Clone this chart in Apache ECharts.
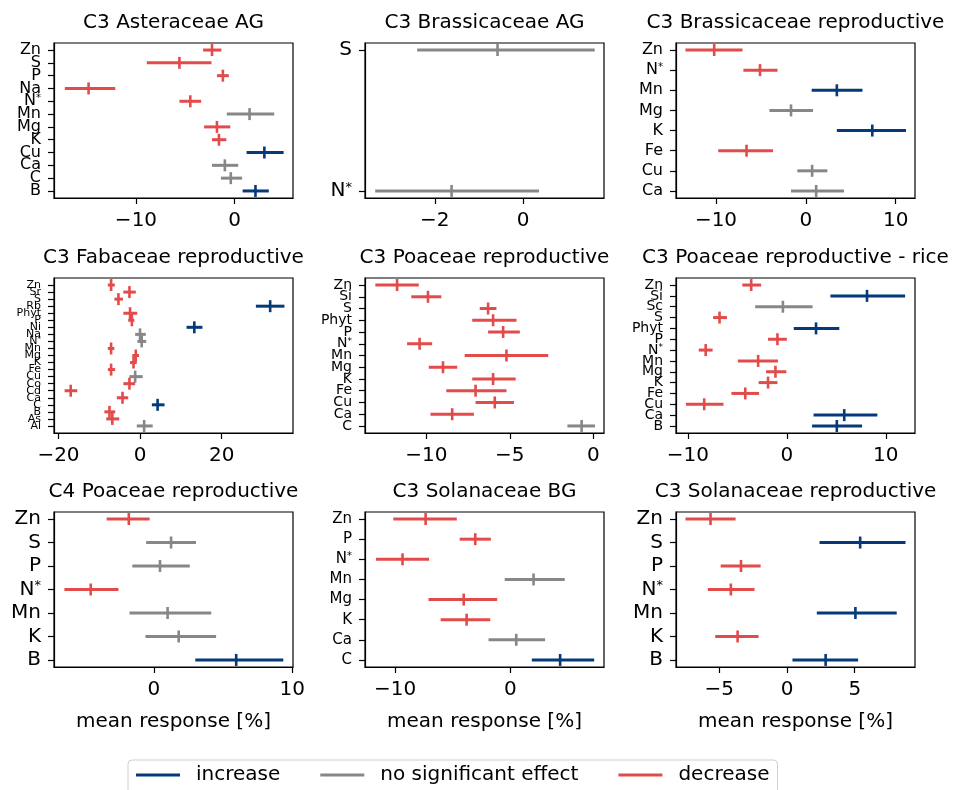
<!DOCTYPE html>
<html>
<head>
<meta charset="utf-8">
<script src="https://cdn.jsdelivr.net/npm/echarts@6/dist/echarts.min.js"></script>
<style>
html, body { margin: 0; padding: 0; background: #fff; }
#chart { width: 957px; height: 790px; }
</style>
</head>
<body>
<div id="chart"></div>
<script>
// effect codes: i = increase, n = no significant effect, d = decrease
const asterAgCats = ['Zn', 'S', 'P', 'Na', 'N*', 'Mn', 'Mg', 'K', 'Cu', 'Ca', 'C', 'B'];
const asterAgMean = [-2.3, -5.6, -1.2, -14.8, -4.5, 1.5, -1.8, -1.6, 3.0, -1.0, -0.4, 2.1];
const asterAgLow = [-3.2, -8.9, -1.8, -17.2, -5.6, -0.8, -3.1, -2.3, 1.2, -2.3, -1.4, 0.8];
const asterAgHigh = [-1.35, -2.35, -0.6, -12.1, -3.4, 4.0, -0.45, -0.85, 4.95, 0.35, 0.75, 3.45];
const asterAgEffect = ['d', 'd', 'd', 'd', 'd', 'n', 'd', 'd', 'i', 'n', 'n', 'i'];
const asterAgTicks = [-10, 0];

const brassAgCats = ['S', 'N*'];
const brassAgMean = [-0.58, -1.62];
const brassAgLow = [-2.4, -3.35];
const brassAgHigh = [1.62, 0.36];
const brassAgEffect = ['n', 'n'];
const brassAgTicks = [-2, 0];

const brassRepCats = ['Zn', 'N*', 'Mn', 'Mg', 'K', 'Fe', 'Cu', 'Ca'];
const brassRepMean = [-10.2, -5.1, 3.45, -1.65, 7.4, -6.6, 0.7, 1.15];
const brassRepLow = [-13.4, -6.95, 0.65, -4.05, 3.45, -9.75, -0.95, -1.65];
const brassRepHigh = [-7.05, -3.15, 6.3, 0.8, 11.15, -3.65, 2.4, 4.25];
const brassRepEffect = ['d', 'd', 'i', 'n', 'i', 'd', 'n', 'n'];
const brassRepTicks = [-10, 0, 10];

const fabRepCats = ['Zn', 'Sr', 'S', 'Rb', 'Phyt', 'P', 'Ni', 'Na', 'N*', 'Mn', 'Mg', 'K', 'Fe', 'Cu', 'Co', 'Cd', 'Ca', 'C', 'B', 'As', 'Al'];
const fabRepMean = [-7.1, -2.6, -5.3, 31.9, -2.45, -2.0, 13.3, 0.0, 0.4, -7.1, -1.05, -1.6, -7.1, -1.2, -2.6, -17.0, -4.3, 4.3, -7.5, -6.8, 1.0];
const fabRepLow = [-7.9, -4.1, -6.3, 28.4, -4.1, -2.9, 11.4, -1.2, -0.65, -7.9, -1.9, -2.45, -7.9, -2.6, -4.1, -18.5, -5.7, 2.9, -8.75, -8.3, -0.8];
const fabRepHigh = [-6.2, -1.05, -4.2, 35.4, -0.7, -1.4, 15.3, 1.4, 1.5, -6.3, -0.25, -0.8, -6.1, 0.65, -1.2, -15.4, -2.9, 6.0, -6.1, -5.1, 3.1];
const fabRepEffect = ['d', 'd', 'd', 'i', 'd', 'd', 'i', 'n', 'n', 'd', 'd', 'd', 'd', 'n', 'd', 'd', 'd', 'i', 'd', 'd', 'n'];
const fabRepTicks = [-20, 0, 20];

const poaRepCats = ['Zn', 'Si', 'S', 'Phyt', 'P', 'N*', 'Mn', 'Mg', 'K', 'Fe', 'Cu', 'Ca', 'C'];
const poaRepMean = [-11.75, -9.9, -6.3, -6.0, -5.4, -10.4, -5.2, -9.0, -6.0, -7.05, -5.9, -8.45, -0.7];
const poaRepLow = [-13.05, -10.9, -6.8, -7.25, -6.3, -11.15, -7.7, -9.85, -7.25, -8.8, -7.05, -9.75, -1.55];
const poaRepHigh = [-10.45, -9.1, -5.8, -4.6, -4.4, -9.65, -2.7, -8.15, -4.65, -5.2, -4.75, -7.15, 0.1];
const poaRepEffect = ['d', 'd', 'd', 'd', 'd', 'd', 'd', 'd', 'd', 'd', 'd', 'd', 'n'];
const poaRepTicks = [-10, -5, 0];

const riceCats = ['Zn', 'Si', 'Sc', 'S', 'Phyt', 'P', 'N*', 'Mn', 'Mg', 'K', 'Fe', 'Cu', 'Ca', 'B'];
const riceMean = [-3.6, 8.1, -0.4, -6.8, 2.95, -0.95, -8.2, -2.9, -1.15, -1.9, -4.2, -8.35, 5.8, 5.05];
const riceLow = [-4.5, 4.4, -3.2, -7.45, 0.7, -1.9, -8.9, -4.95, -2.1, -2.85, -5.6, -10.2, 2.7, 2.55];
const riceHigh = [-2.6, 11.95, 2.6, -6.05, 5.3, 0.0, -7.5, -0.9, -0.05, -0.95, -2.8, -6.4, 9.15, 7.6];
const riceEffect = ['d', 'i', 'n', 'd', 'i', 'd', 'd', 'd', 'd', 'd', 'd', 'd', 'i', 'i'];
const riceTicks = [-10, 0, 10];

const c4PoaCats = ['Zn', 'S', 'P', 'N*', 'Mn', 'K', 'B'];
const c4PoaMean = [-1.8, 1.25, 0.45, -4.55, 1.0, 1.8, 5.95];
const c4PoaLow = [-3.4, -0.55, -1.55, -6.45, -1.75, -0.6, 3.0];
const c4PoaHigh = [-0.3, 3.05, 2.6, -2.55, 4.15, 4.5, 9.35];
const c4PoaEffect = ['d', 'n', 'n', 'd', 'n', 'n', 'i'];
const c4PoaTicks = [0, 10];

const solBgCats = ['Zn', 'P', 'N*', 'Mn', 'Mg', 'K', 'Ca', 'C'];
const solBgMean = [-7.35, -3.05, -9.35, 2.0, -4.05, -3.8, 0.5, 4.3];
const solBgLow = [-10.15, -4.4, -11.65, -0.5, -7.1, -6.05, -1.9, 1.85];
const solBgHigh = [-4.65, -1.7, -7.05, 4.7, -1.15, -1.75, 3.0, 7.25];
const solBgEffect = ['d', 'd', 'd', 'n', 'd', 'd', 'n', 'i'];
const solBgTicks = [-10, 0];

const solRepCats = ['Zn', 'S', 'P', 'N*', 'Mn', 'K', 'B'];
const solRepMean = [-5.65, 5.4, -3.4, -4.15, 5.05, -3.65, 2.85];
const solRepLow = [-7.5, 2.4, -4.9, -5.85, 2.2, -5.3, 0.4];
const solRepHigh = [-3.8, 8.75, -1.95, -2.4, 8.1, -2.1, 5.25];
const solRepEffect = ['d', 'i', 'd', 'd', 'i', 'd', 'i'];
const solRepTicks = [-5, 0, 5];

const effectKeys = ['i', 'n', 'd'];
const effectNames = {i: 'increase', n: 'no significant effect', d: 'decrease'};
const effectColors = {i: '#04397a', n: '#878787', d: '#e34a4a'};

const colLeft = [54, 365, 676];
const rowTop = [43, 278, 512];

const panels = [
  {title: 'C3 Asteraceae AG', cats: asterAgCats, mean: asterAgMean, low: asterAgLow, high: asterAgHigh, effect: asterAgEffect, ticks: asterAgTicks, xMin: -18.3, xMax: 5.9, col: 0, row: 0, size: 16},
  {title: 'C3 Brassicaceae AG', cats: brassAgCats, mean: brassAgMean, low: brassAgLow, high: brassAgHigh, effect: brassAgEffect, ticks: brassAgTicks, xMin: -3.58, xMax: 1.83, col: 1, row: 0, size: 20},
  {title: 'C3 Brassicaceae reproductive', cats: brassRepCats, mean: brassRepMean, low: brassRepLow, high: brassRepHigh, effect: brassRepEffect, ticks: brassRepTicks, xMin: -14.45, xMax: 12.15, col: 2, row: 0, size: 16},
  {title: 'C3 Fabaceae reproductive', cats: fabRepCats, mean: fabRepMean, low: fabRepLow, high: fabRepHigh, effect: fabRepEffect, ticks: fabRepTicks, xMin: -21.1, xMax: 37.5, col: 0, row: 1, size: 11},
  {title: 'C3 Poaceae reproductive', cats: poaRepCats, mean: poaRepMean, low: poaRepLow, high: poaRepHigh, effect: poaRepEffect, ticks: poaRepTicks, xMin: -13.67, xMax: 0.64, col: 1, row: 1, size: 14},
  {title: 'C3 Poaceae reproductive - rice', cats: riceCats, mean: riceMean, low: riceLow, high: riceHigh, effect: riceEffect, ticks: riceTicks, xMin: -11.2, xMax: 12.95, col: 2, row: 1, size: 14},
  {title: 'C4 Poaceae reproductive', cats: c4PoaCats, mean: c4PoaMean, low: c4PoaLow, high: c4PoaHigh, effect: c4PoaEffect, ticks: c4PoaTicks, xMin: -7.2, xMax: 10.05, col: 0, row: 2, size: 20},
  {title: 'C3 Solanaceae BG', cats: solBgCats, mean: solBgMean, low: solBgLow, high: solBgHigh, effect: solBgEffect, ticks: solBgTicks, xMin: -12.6, xMax: 8.1, col: 1, row: 2, size: 15},
  {title: 'C3 Solanaceae reproductive', cats: solRepCats, mean: solRepMean, low: solRepLow, high: solRepHigh, effect: solRepEffect, ticks: solRepTicks, xMin: -8.2, xMax: 9.45, col: 2, row: 2, size: 20}
];

function renderBar(params, api) {
  const y = api.value(0);
  const a = api.coord([api.value(2), y]);
  const b = api.coord([api.value(3), y]);
  const m = api.coord([api.value(1), y]);
  const color = api.visual('color');
  return {
    type: 'group',
    children: [
      {type: 'line', shape: {x1: a[0], y1: a[1], x2: b[0], y2: b[1]}, style: {stroke: color, lineWidth: 3}},
      {type: 'line', shape: {x1: m[0], y1: m[1] - 6, x2: m[0], y2: m[1] + 6}, style: {stroke: color, lineWidth: 2.6}}
    ]
  };
}

function tickText(v) {
  return v < 0 ? '\u2212' + Math.abs(v) : String(v);
}

const option = {
  animation: false,
  backgroundColor: '#fff',
  textStyle: {fontFamily: 'DejaVu Sans', color: '#000'},
  title: [],
  grid: [],
  xAxis: [],
  yAxis: [],
  series: [],
  legend: {
    data: ['increase', 'no significant effect', 'decrease'],
    left: 128,
    top: 760,
    icon: 'rect',
    itemWidth: 44,
    itemHeight: 3,
    itemGap: 40,
    selectedMode: false,
    borderColor: '#d0d0d0',
    borderWidth: 1,
    borderRadius: 4,
    padding: [5, 8, 12, 8],
    textStyle: {fontSize: 20, color: '#000', padding: [0, 0, 0, 11]}
  }
};

panels.forEach(function (p, k) {
  const left = colLeft[p.col];
  const top = rowTop[p.row];
  const width = 239;
  const height = 155;
  const n = p.cats.length;
  const idx = p.cats.map(function (c, j) { return j; });
  // labels split over two stacked y axes (even / odd rows) so the
  // crowded ones are not dropped by the overlap check
  const evenIdx = idx.filter(function (j) { return j % 2 === 0; });
  const oddIdx = idx.filter(function (j) { return j % 2 === 1; });

  option.title.push({
    text: p.title,
    left: left + width / 2,
    top: top - 30,
    textAlign: 'center',
    padding: 0,
    textStyle: {fontSize: 20, fontWeight: 'normal', color: '#000', fontFamily: 'DejaVu Sans'}
  });

  option.grid.push({
    left: left, top: top, width: width, height: height,
    show: true, borderColor: '#000', borderWidth: 1.2,
    containLabel: false, outerBoundsMode: 'none'
  });

  option.xAxis.push({
    gridIndex: k,
    type: 'value',
    min: p.xMin,
    max: p.xMax,
    name: p.row === 2 ? 'mean response [%]' : '',
    nameLocation: 'middle',
    nameGap: 45,
    nameTextStyle: {fontSize: 20, color: '#000'},
    axisLine: {show: true, onZero: false, lineStyle: {color: '#000', width: 1.2}},
    axisTick: {show: true, customValues: p.ticks, length: 6, lineStyle: {color: '#000', width: 1.2}},
    axisLabel: {customValues: p.ticks, fontSize: 20, color: '#000', margin: 13, formatter: tickText,
      showMinLabel: true, showMaxLabel: true, hideOverlap: false},
    splitLine: {show: false}
  });

  const labelFormatter = function (v) {
    const name = p.cats[Math.round(v)];
    if (name && name.slice(-1) === '*') {
      return '{b|' + name.slice(0, -1) + '}{s|*}';
    }
    return '{b|' + name + '}';
  };
  const rich = {
    b: {fontSize: p.size, color: '#000', fontFamily: 'DejaVu Sans'},
    s: {fontSize: Math.round(p.size * 0.65), color: '#000', fontFamily: 'DejaVu Sans', verticalAlign: 'top'}
  };

  [evenIdx, oddIdx].forEach(function (vals, half) {
    option.yAxis.push({
      gridIndex: k,
      type: 'value',
      position: 'left',
      offset: 0,
      inverse: true,
      min: -0.05 * (n - 1),
      max: 1.05 * (n - 1),
      axisLine: {show: half === 0, onZero: false, lineStyle: {color: '#000', width: 1.2}},
      axisTick: {show: half === 0, customValues: idx, length: 6, lineStyle: {color: '#000', width: 1.2}},
      axisLabel: {
        show: vals.length > 0,
        customValues: vals,
        showMinLabel: true,
        showMaxLabel: true,
        hideOverlap: false,
        fontSize: p.size,
        color: '#000',
        margin: 13,
        formatter: labelFormatter,
        rich: rich
      },
      splitLine: {show: false}
    });
  });

  effectKeys.forEach(function (e) {
    const data = [];
    p.cats.forEach(function (c, j) {
      if (p.effect[j] === e) {
        data.push([j, p.mean[j], p.low[j], p.high[j]]);
      }
    });
    option.series.push({
      name: effectNames[e],
      type: 'custom',
      xAxisIndex: k,
      yAxisIndex: 2 * k,
      itemStyle: {color: effectColors[e]},
      encode: {x: [1, 2, 3], y: 0},
      renderItem: renderBar,
      data: data
    });
  });
});

const myChart = echarts.init(document.getElementById('chart'));
myChart.setOption(option);
</script>
</body>
</html>
